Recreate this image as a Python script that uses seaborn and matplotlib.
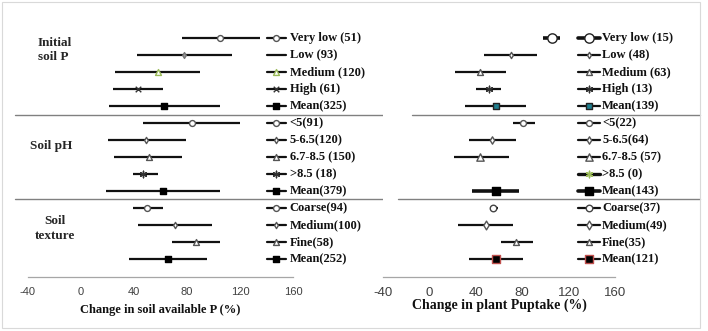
# Forest plot: change in soil available P and plant P uptake
import numpy as np
import pandas as pd
import matplotlib.pyplot as plt
import seaborn as sns
from matplotlib.patches import Rectangle

# Datos
grupos = ['Initial\nsoil P', 'Soil pH', 'Soil\ntexture']

soil_labels = ['Very low (51)', 'Low (93)', 'Medium (120)', 'High (61)', 'Mean(325)',
               '<5(91)', '5-6.5(120)', '6.7-8.5 (150)', '>8.5 (18)', 'Mean(379)',
               'Coarse(94)', 'Medium(100)', 'Fine(58)', 'Mean(252)']
soil_mean = [105, 78, 58, 43, 63, 84, 49, 51, 47, 62, 50, 71, 87, 66]
soil_low = [76, 42, 26, 24, 21, 47, 20, 25, 39, 19, 39, 43, 69, 36]
soil_high = [135, 114, 90, 62, 105, 120, 79, 76, 58, 105, 62, 99, 105, 95]

plant_labels = ['Very low (15)', 'Low (48)', 'Medium (63)', 'High (13)', 'Mean(139)',
                '<5(22)', '5-6.5(64)', '6.7-8.5 (57)', '>8.5 (0)', 'Mean(143)',
                'Coarse(37)', 'Medium(49)', 'Fine(35)', 'Mean(121)']
plant_mean = [106, 70, 44, 51, 57, 81, 54, 44, np.nan, 57, 55, 49, 75, 57]
plant_low = [98, 47, 22, 40, 31, 72, 34, 21, np.nan, 37, 52, 25, 62, 34]
plant_high = [113, 93, 66, 62, 83, 91, 75, 69, np.nan, 77, 59, 72, 89, 81]

xticks = [-40, 0, 40, 80, 120, 160]

# Estilos de cada fila: marcador, tamaño, relleno, borde, grosor de linea, marcador en leyenda
AST = (6, 2, 0)
soil_style = [
    ('o', 18, 'white', '#555555', 1.6, True),
    ('d', 9, '#999999', '#777777', 1.6, False),
    ('^', 18, 'white', '#9BBB59', 1.6, True),
    ('x', 16, '#333333', '#333333', 1.6, True),
    ('s', 24, 'black', 'black', 1.6, True),
    ('o', 18, 'white', '#555555', 1.6, True),
    ('d', 10, 'white', '#555555', 1.6, True),
    ('^', 18, 'white', '#555555', 1.6, True),
    (AST, 22, '#333333', '#333333', 1.6, True),
    ('s', 24, 'black', 'black', 1.6, True),
    ('o', 18, 'white', '#555555', 1.6, True),
    ('d', 10, 'white', '#555555', 1.6, True),
    ('^', 18, 'white', '#555555', 1.6, True),
    ('s', 24, 'black', 'black', 1.6, True),
]
plant_style = [
    ('o', 45, 'white', '#222222', 2.6, True),
    ('d', 10, 'white', '#555555', 1.6, True),
    ('^', 18, 'white', '#555555', 1.6, True),
    (AST, 22, '#333333', '#333333', 1.6, True),
    ('s', 22, '#1F7F8F', '#222222', 1.6, True),
    ('o', 18, 'white', '#555555', 1.6, True),
    ('d', 14, 'white', '#555555', 1.6, True),
    ('^', 28, 'white', '#555555', 1.6, True),
    (AST, 22, '#9BBB59', '#9BBB59', 2.4, True),
    ('s', 32, 'black', 'black', 2.6, True),
    ('o', 22, 'white', '#444444', 1.6, True),
    ('d', 20, 'white', '#555555', 1.6, True),
    ('^', 18, 'white', '#555555', 1.6, True),
    ('s', 26, 'black', '#C0504D', 1.6, True),
]

sns.set_style('white')
plt.rcParams['font.family'] = ['Liberation Serif', 'DejaVu Serif']

W, H = 708, 331
fig = plt.figure(figsize=(W / 100, H / 100), dpi=100)
fig.patches.append(Rectangle((2 / W, 3 / H), 698 / W, 326 / H, transform=fig.transFigure,
                             fill=False, edgecolor='#D9D9D9', lw=0.8))

filas = np.arange(14)
sep_rows = [4.5, 9.5]


def panel(x0, x1, labels, media, bajo, alto, estilos, xlabel, fs_tick, fs_lab,
          lab_y, leg_x, sep_spans):
    ax = fig.add_axes([x0 / W, 1 - 277 / H, (x1 - x0) / W, (277 - 20) / H])
    df = pd.DataFrame({'fila': filas, 'media': media, 'bajo': bajo, 'alto': alto})
    for i, r in df.iterrows():
        mk, s, fc, ec, lw, leg_mk = estilos[i]
        if np.isnan(r.media):
            continue
        ax.hlines(r.fila, r.bajo, r.alto, color='#111111', lw=lw, zorder=2)
        sns.scatterplot(x=[r.media], y=[r.fila], marker=mk, s=s, color=fc,
                        edgecolor=ec, linewidth=1.0, ax=ax, zorder=3, legend=False)
    # leyenda fila a fila
    for i, lab in enumerate(labels):
        mk, s, fc, ec, lw, leg_mk = estilos[i]
        ax.plot([leg_x[0], leg_x[1]], [i, i], color='#111111', lw=lw, clip_on=False)
        if leg_mk:
            ax.scatter([(leg_x[0] + leg_x[1]) / 2], [i], marker=mk, s=s,
                       color=fc, edgecolor=ec, linewidth=1.0, zorder=3, clip_on=False)
        ax.text(leg_x[2], i, lab, fontsize=9, fontweight='bold', va='center',
                ha='left', color='#111111')
    for r, (a, b) in zip(sep_rows, sep_spans):
        ax.axhline(r, xmin=a, xmax=b, color='#808080', lw=1.0, clip_on=False)
    ax.set_xlim(-40, 160)
    ax.set_ylim(14.06, -1.06)
    ax.set_yticks([])
    ax.set_xticks(xticks)
    ax.set_xticklabels([str(t) for t in xticks], fontsize=fs_tick, color='#404040',
                       family='Liberation Sans')
    ax.tick_params(axis='x', direction='out', length=4, width=0.8, color='#A6A6A6', pad=3)
    for sp in ['top', 'right', 'left']:
        ax.spines[sp].set_visible(False)
    ax.spines['bottom'].set_color('#A6A6A6')
    ax.spines['bottom'].set_linewidth(0.9)
    ax.set_xlabel(xlabel, fontsize=fs_lab, fontweight='bold', color='#111111')
    ax.xaxis.set_label_coords(0.5, lab_y)
    return ax


ax1 = panel(28, 293, soil_labels, soil_mean, soil_low, soil_high, soil_style,
            'Change in soil available P (%)', 8, 9, -0.105,
            (140, 155, 157.5), [(-0.049, 1.355), (-0.049, 1.355)])
ax2 = panel(383, 615, plant_labels, plant_mean, plant_low, plant_high, plant_style,
            'Change in plant Puptake (%)', 9.5, 10, -0.082,
            (128, 147, 149), [(0.125, 1.366), (0.065, 1.366)])

# Etiquetas de grupo
ax1.text(-32.5, 0.7, grupos[0], fontsize=9.5, fontweight='bold', va='center', ha='left',
         linespacing=1.3)
ax1.text(-38.5, 6.35, grupos[1], fontsize=9.5, fontweight='bold', va='center', ha='left')
ax1.text(-19.6, 11.2, grupos[2], fontsize=9.5, fontweight='bold', va='center', ha='center',
         linespacing=1.3)

fig.savefig('out.png', dpi=100)
